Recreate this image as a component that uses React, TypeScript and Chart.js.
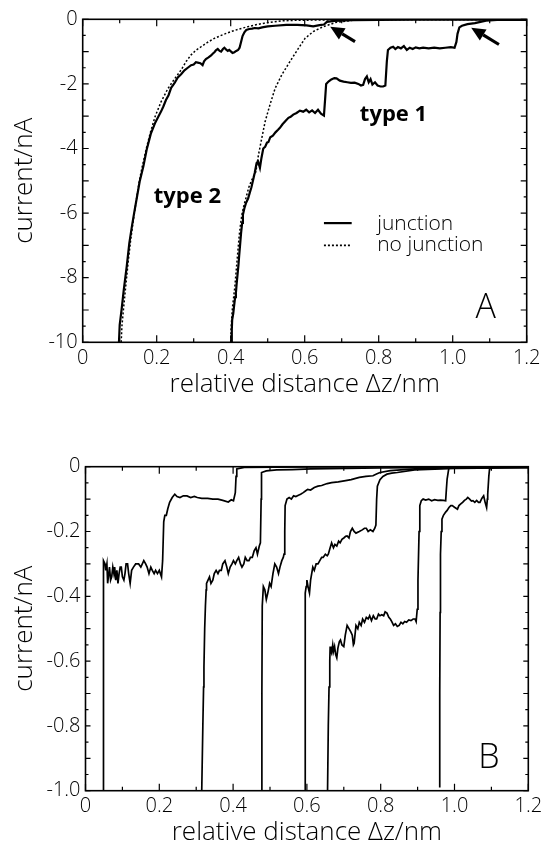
import React, { useEffect, useRef } from "react";
import { Chart, registerables } from "chart.js";

Chart.register(...registerables);

const FONT = '"Open Sans", "DejaVu Sans", sans-serif';
const CANVAS_W = 570;

type Pt = [number, number];

// ---------------- Panel A data (x: relative distance nm, y: current nA) ----------------
const type2Junction: Pt[] = [
  [0.098, -10], [0.1, -9.46], [0.105, -9.0], [0.111, -8.38], [0.119, -7.65], [0.126, -6.93], [0.133, -6.41],
  [0.139, -6.0], [0.147, -5.48], [0.154, -5.02], [0.164, -4.55], [0.173, -4.03], [0.184, -3.55], [0.196, -3.2],
  [0.205, -3.0], [0.212, -2.85], [0.218, -2.7], [0.225, -2.5], [0.232, -2.35], [0.239, -2.12], [0.248, -1.98],
  [0.257, -1.8], [0.266, -1.7], [0.275, -1.58], [0.284, -1.5], [0.293, -1.42], [0.3, -1.4], [0.306, -1.33],
  [0.311, -1.34], [0.318, -1.36], [0.324, -1.42], [0.328, -1.3], [0.333, -1.23], [0.34, -1.18], [0.347, -1.12],
  [0.352, -1.06], [0.356, -1.02], [0.36, -0.96], [0.365, -0.92], [0.37, -0.98], [0.374, -1.0], [0.379, -0.92],
  [0.383, -0.88], [0.388, -0.94], [0.392, -0.98], [0.396, -0.95], [0.401, -1.0], [0.405, -1.04], [0.41, -1.02],
  [0.415, -0.98], [0.42, -0.95], [0.424, -0.88], [0.428, -0.7], [0.432, -0.52], [0.437, -0.4], [0.442, -0.33],
  [0.45, -0.3], [0.458, -0.29], [0.465, -0.27], [0.475, -0.28], [0.485, -0.25], [0.5, -0.22], [0.52, -0.2],
  [0.55, -0.17], [0.58, -0.17], [0.605, -0.19], [0.623, -0.22], [0.64, -0.18], [0.652, -0.16], [0.66, -0.08],
  [0.68, -0.05], [0.73, -0.03], [0.8, -0.02], [0.9, -0.01], [1.0, -0.01], [1.2, -0.01],
];

const type2NoJunction: Pt[] = [
  [0.104, -10], [0.106, -9.5], [0.11, -9.0], [0.116, -8.3], [0.123, -7.5], [0.13, -6.8], [0.137, -6.2],
  [0.145, -5.6], [0.153, -5.0], [0.162, -4.5], [0.172, -4.0], [0.183, -3.5], [0.196, -3.0], [0.212, -2.55],
  [0.23, -2.15], [0.248, -1.85], [0.266, -1.57], [0.28, -1.3], [0.293, -1.1], [0.306, -0.96], [0.32, -0.85],
  [0.338, -0.71], [0.356, -0.59], [0.378, -0.48], [0.401, -0.38], [0.423, -0.3], [0.446, -0.23], [0.468, -0.17],
  [0.491, -0.12], [0.515, -0.08], [0.536, -0.05], [0.58, -0.03], [0.65, -0.02], [0.8, -0.01], [1.2, 0],
];

const type1Junction: Pt[] = [
  [0.402, -10], [0.403, -9.6], [0.404, -9.3], [0.407, -9.1], [0.409, -8.89], [0.412, -8.6], [0.414, -8.48],
  [0.416, -8.2], [0.418, -7.96], [0.421, -7.6], [0.423, -7.3], [0.426, -6.9], [0.428, -6.62], [0.431, -6.3],
  [0.433, -6.05], [0.437, -5.85], [0.441, -5.7], [0.447, -5.55], [0.452, -5.35], [0.456, -5.2], [0.461, -4.95],
  [0.465, -4.75], [0.47, -4.45], [0.474, -4.4], [0.479, -4.6], [0.483, -4.3], [0.488, -4.0], [0.493, -3.95],
  [0.498, -3.82], [0.502, -3.8], [0.507, -3.65], [0.514, -3.6], [0.521, -3.5], [0.528, -3.42], [0.533, -3.36],
  [0.54, -3.25], [0.548, -3.15], [0.556, -3.05], [0.562, -3.02], [0.569, -2.95], [0.578, -2.9], [0.587, -2.83],
  [0.596, -2.86], [0.604, -2.8], [0.612, -2.88], [0.62, -2.82], [0.628, -2.9], [0.636, -2.8], [0.644, -2.92],
  [0.652, -2.98], [0.655, -2.5], [0.658, -2.0], [0.665, -1.92], [0.672, -1.86], [0.68, -1.82], [0.686, -1.83],
  [0.695, -1.9], [0.705, -1.93], [0.715, -1.95], [0.725, -1.97], [0.735, -1.96], [0.745, -2.0], [0.752, -2.05],
  [0.758, -2.03], [0.763, -1.85], [0.768, -1.77], [0.773, -1.95], [0.778, -1.85], [0.783, -2.02], [0.79, -1.95],
  [0.797, -2.05], [0.805, -2.08], [0.812, -2.08], [0.818, -2.05], [0.822, -1.3], [0.825, -0.95], [0.832, -0.88],
  [0.839, -0.85], [0.845, -0.92], [0.852, -0.86], [0.86, -0.9], [0.868, -0.83], [0.876, -0.95], [0.884, -0.88],
  [0.892, -0.92], [0.9, -0.87], [0.91, -0.9], [0.92, -0.88], [0.935, -0.9], [0.95, -0.88], [0.965, -0.9],
  [0.98, -0.88], [0.995, -0.86], [1.005, -0.88], [1.01, -0.7], [1.013, -0.45], [1.018, -0.25], [1.025, -0.2],
  [1.04, -0.15], [1.06, -0.12], [1.075, -0.08], [1.09, -0.04], [1.12, -0.02], [1.2, -0.02],
];

const type1NoJunction: Pt[] = [
  [0.4, -10], [0.401, -9.6], [0.403, -9.2], [0.405, -8.9], [0.408, -8.6], [0.411, -8.3], [0.414, -7.9],
  [0.417, -7.5], [0.42, -7.1], [0.423, -6.7], [0.427, -6.3], [0.431, -6.0], [0.436, -5.75], [0.442, -5.5],
  [0.449, -5.2], [0.456, -5.0], [0.462, -4.85], [0.468, -4.72], [0.475, -4.2], [0.484, -3.68], [0.493, -3.17],
  [0.506, -2.65], [0.52, -2.14], [0.538, -1.72], [0.56, -1.31], [0.583, -0.9], [0.601, -0.59], [0.623, -0.38],
  [0.65, -0.23], [0.686, -0.09], [0.73, -0.03], [0.8, -0.01], [1.2, 0],
];

// ---------------- Panel B data ----------------
const curveB1: Pt[] = [
  [0.048, -1.0], [0.048, -0.7], [0.048, -0.47], [0.049, -0.35], [0.05, -0.29], [0.053, -0.3], [0.055, -0.32],
  [0.058, -0.3], [0.06, -0.36], [0.063, -0.33], [0.065, -0.31], [0.068, -0.35], [0.071, -0.34], [0.074, -0.31],
  [0.077, -0.33], [0.079, -0.31], [0.082, -0.35], [0.085, -0.32], [0.088, -0.36], [0.091, -0.33], [0.094, -0.31],
  [0.097, -0.31], [0.1, -0.34], [0.104, -0.35], [0.107, -0.33], [0.11, -0.3], [0.114, -0.3], [0.117, -0.33],
  [0.121, -0.36], [0.125, -0.32], [0.13, -0.31], [0.136, -0.3], [0.144, -0.3], [0.15, -0.31], [0.158, -0.29],
  [0.163, -0.3], [0.167, -0.31], [0.172, -0.33], [0.177, -0.31], [0.181, -0.32], [0.186, -0.33], [0.19, -0.32],
  [0.195, -0.33], [0.2, -0.32], [0.206, -0.34], [0.209, -0.29], [0.212, -0.17], [0.215, -0.15], [0.219, -0.15],
  [0.223, -0.13], [0.228, -0.11], [0.235, -0.095], [0.242, -0.085], [0.248, -0.092], [0.256, -0.095],
  [0.265, -0.09], [0.275, -0.09], [0.285, -0.095], [0.295, -0.092], [0.303, -0.095], [0.315, -0.098],
  [0.331, -0.098], [0.345, -0.1], [0.359, -0.1], [0.372, -0.104], [0.387, -0.109], [0.395, -0.102],
  [0.401, -0.105], [0.406, -0.08], [0.408, -0.03], [0.41, -0.007], [0.43, -0.002], [0.6, -0.001], [1.2, 0],
];

const curveB2: Pt[] = [
  [0.315, -1.0], [0.318, -0.8], [0.32, -0.68], [0.321, -0.62], [0.323, -0.5], [0.325, -0.43], [0.327, -0.38],
  [0.328, -0.36], [0.332, -0.35], [0.336, -0.34], [0.34, -0.36], [0.345, -0.35], [0.349, -0.33], [0.354, -0.32],
  [0.359, -0.33], [0.363, -0.32], [0.368, -0.32], [0.372, -0.3], [0.378, -0.29], [0.383, -0.31], [0.387, -0.33],
  [0.392, -0.31], [0.397, -0.3], [0.401, -0.29], [0.406, -0.3], [0.41, -0.29], [0.415, -0.28], [0.42, -0.3],
  [0.424, -0.31], [0.429, -0.3], [0.433, -0.28], [0.438, -0.29], [0.443, -0.29], [0.447, -0.28], [0.452, -0.28],
  [0.457, -0.26], [0.462, -0.25], [0.466, -0.27], [0.471, -0.245], [0.474, -0.235], [0.476, -0.1],
  [0.477, -0.018], [0.49, -0.013], [0.518, -0.01], [0.56, -0.009], [0.611, -0.007], [0.705, -0.005],
  [0.8, -0.004], [1.0, -0.002], [1.2, -0.002],
];

const curveB3: Pt[] = [
  [0.478, -1.0], [0.478, -0.7], [0.479, -0.43], [0.482, -0.37], [0.486, -0.38], [0.49, -0.41], [0.494, -0.39],
  [0.499, -0.36], [0.503, -0.37], [0.508, -0.33], [0.513, -0.3], [0.518, -0.31], [0.523, -0.33], [0.527, -0.31],
  [0.532, -0.29], [0.536, -0.28], [0.538, -0.27], [0.54, -0.2], [0.541, -0.12], [0.546, -0.1], [0.552, -0.095],
  [0.558, -0.1], [0.564, -0.09], [0.57, -0.092], [0.577, -0.088], [0.583, -0.085], [0.59, -0.08], [0.596, -0.075],
  [0.602, -0.07], [0.61, -0.072], [0.62, -0.064], [0.63, -0.06], [0.64, -0.058], [0.655, -0.052], [0.667, -0.049],
  [0.685, -0.047], [0.705, -0.043], [0.72, -0.04], [0.742, -0.033], [0.76, -0.03], [0.779, -0.028],
  [0.79, -0.022], [0.798, -0.018], [0.826, -0.012], [0.892, -0.007], [1.0, -0.004], [1.2, -0.002],
];

const curveB4: Pt[] = [
  [0.595, -1.0], [0.595, -0.7], [0.596, -0.39], [0.598, -0.37], [0.6, -0.35], [0.603, -0.37], [0.607, -0.39],
  [0.61, -0.35], [0.613, -0.33], [0.616, -0.31], [0.62, -0.32], [0.625, -0.3], [0.63, -0.3], [0.635, -0.29],
  [0.64, -0.28], [0.644, -0.28], [0.65, -0.27], [0.655, -0.275], [0.658, -0.27], [0.663, -0.25], [0.667, -0.235],
  [0.672, -0.25], [0.676, -0.24], [0.681, -0.245], [0.686, -0.23], [0.69, -0.235], [0.695, -0.224], [0.7, -0.22],
  [0.705, -0.215], [0.709, -0.214], [0.714, -0.22], [0.718, -0.2], [0.723, -0.19], [0.728, -0.2], [0.733, -0.205],
  [0.742, -0.2], [0.75, -0.195], [0.756, -0.19], [0.761, -0.19], [0.766, -0.2], [0.772, -0.195], [0.779, -0.2],
  [0.784, -0.19], [0.787, -0.18], [0.789, -0.1], [0.791, -0.06], [0.798, -0.04], [0.806, -0.03], [0.817, -0.023],
  [0.83, -0.02], [0.845, -0.018], [0.892, -0.01], [1.0, -0.005], [1.2, -0.003],
];

const curveB5: Pt[] = [
  [0.656, -1.0], [0.658, -0.8], [0.66, -0.68], [0.662, -0.6], [0.663, -0.555], [0.665, -0.57], [0.667, -0.576],
  [0.67, -0.55], [0.672, -0.57], [0.675, -0.555], [0.678, -0.58], [0.681, -0.59], [0.684, -0.56], [0.688, -0.54],
  [0.691, -0.535], [0.695, -0.55], [0.7, -0.555], [0.704, -0.52], [0.709, -0.49], [0.714, -0.5], [0.719, -0.51],
  [0.723, -0.52], [0.726, -0.55], [0.728, -0.545], [0.733, -0.49], [0.738, -0.5], [0.742, -0.48], [0.747, -0.49],
  [0.751, -0.47], [0.756, -0.48], [0.761, -0.465], [0.766, -0.47], [0.77, -0.46], [0.775, -0.475], [0.78, -0.46],
  [0.785, -0.47], [0.789, -0.47], [0.794, -0.455], [0.798, -0.46], [0.803, -0.457], [0.808, -0.46],
  [0.812, -0.448], [0.817, -0.452], [0.822, -0.465], [0.826, -0.47], [0.83, -0.478], [0.835, -0.49],
  [0.84, -0.485], [0.845, -0.493], [0.85, -0.49], [0.855, -0.48], [0.86, -0.485], [0.865, -0.478], [0.87, -0.48],
  [0.876, -0.473], [0.882, -0.475], [0.888, -0.47], [0.893, -0.47], [0.896, -0.478], [0.899, -0.44],
  [0.901, -0.35], [0.904, -0.2], [0.906, -0.12], [0.91, -0.105], [0.915, -0.1], [0.922, -0.103], [0.93, -0.1],
  [0.938, -0.105], [0.946, -0.102], [0.955, -0.104], [0.962, -0.103], [0.97, -0.104], [0.976, -0.105],
  [0.978, -0.07], [0.98, -0.038], [0.985, -0.002], [1.0, 0], [1.2, 0],
];

const curveB6: Pt[] = [
  [0.96, -0.99], [0.96, -0.7], [0.961, -0.45], [0.962, -0.27], [0.964, -0.2], [0.966, -0.162], [0.97, -0.15],
  [0.976, -0.14], [0.98, -0.135], [0.985, -0.126], [0.99, -0.12], [0.994, -0.12], [1.0, -0.125], [1.008, -0.131],
  [1.012, -0.12], [1.017, -0.115], [1.022, -0.11], [1.027, -0.104], [1.032, -0.1], [1.036, -0.095], [1.041, -0.1],
  [1.046, -0.106], [1.05, -0.105], [1.055, -0.11], [1.06, -0.104], [1.065, -0.11], [1.069, -0.11],
  [1.074, -0.098], [1.079, -0.09], [1.083, -0.11], [1.087, -0.126], [1.089, -0.1], [1.09, -0.085],
  [1.093, -0.03], [1.095, -0.007], [1.107, -0.002], [1.2, 0],
];

// ---------------- axis / label content ----------------
const X_TITLE = "relative distance \u0394z/nm";
const Y_TITLE = "current/nA";
const legendLabels = ["junction", "no junction"];
const typeLabels = ["type 2", "type 1"];

// annotation anchors (data coordinates)
const typeLabelPos: Pt[] = [[0.283, -5.48], [0.84, -2.95]];
const arrowsA: [Pt, Pt][] = [
  [[0.736, -0.69], [0.669, -0.23]],
  [[1.125, -0.78], [1.05, -0.26]],
];
const legendPos = { x0: 0.652, x1: 0.727, xText: 0.796, ySolid: -6.35, yDotted: -7.0 };
const panelLetterA: Pt = [1.089, -8.96];
const panelLetterB: Pt = [1.093, -0.9];

const toXY = (a: Pt[]) => a.map(([x, y]) => ({ x, y }));

type TickSpec = {
  xStep: number; xMajorEvery: number; xMajorLen: number; xMinorLen: number;
  yStep: number; yMajorEvery: number; yMajorLen: number; yMinorLen: number;
};

function makeFramePlugin(spec: TickSpec, overlay: (chart: any) => void) {
  return {
    id: "frameTicks",
    afterDraw(chart: any) {
      const { ctx, chartArea: a, scales } = chart;
      const xs = scales.x;
      const ys = scales.y;
      ctx.save();
      ctx.strokeStyle = "#000";
      ctx.lineWidth = 1.2;
      ctx.beginPath();
      const nx = Math.round((xs.max - xs.min) / spec.xStep);
      for (let i = 0; i <= nx; i++) {
        const p = xs.getPixelForValue(xs.min + i * spec.xStep);
        const len = i % spec.xMajorEvery === 0 ? spec.xMajorLen : spec.xMinorLen;
        ctx.moveTo(p, a.bottom);
        ctx.lineTo(p, a.bottom - len);
        ctx.moveTo(p, a.top);
        ctx.lineTo(p, a.top + len);
      }
      const ny = Math.round((ys.max - ys.min) / spec.yStep);
      for (let i = 0; i <= ny; i++) {
        const p = ys.getPixelForValue(ys.min + i * spec.yStep);
        const len = i % spec.yMajorEvery === 0 ? spec.yMajorLen : spec.yMinorLen;
        ctx.moveTo(a.left, p);
        ctx.lineTo(a.left + len, p);
        ctx.moveTo(a.right, p);
        ctx.lineTo(a.right - len, p);
      }
      ctx.stroke();
      ctx.lineWidth = 1.6;
      ctx.strokeRect(a.left, a.top, a.right - a.left, a.bottom - a.top);
      overlay(chart);
      ctx.restore();
    },
  };
}

function drawArrow(ctx: CanvasRenderingContext2D, x0: number, y0: number, x1: number, y1: number) {
  const ang = Math.atan2(y1 - y0, x1 - x0);
  const headLen = 14;
  const headHalf = 6.5;
  const bx = x1 - headLen * Math.cos(ang);
  const by = y1 - headLen * Math.sin(ang);
  ctx.save();
  ctx.strokeStyle = "#000";
  ctx.fillStyle = "#000";
  ctx.lineWidth = 3.2;
  ctx.beginPath();
  ctx.moveTo(x0, y0);
  ctx.lineTo(bx, by);
  ctx.stroke();
  ctx.beginPath();
  ctx.moveTo(x1, y1);
  ctx.lineTo(bx + headHalf * Math.sin(ang), by - headHalf * Math.cos(ang));
  ctx.lineTo(bx - headHalf * Math.sin(ang), by + headHalf * Math.cos(ang));
  ctx.closePath();
  ctx.fill();
  ctx.restore();
}

function overlayA(chart: any) {
  const { ctx, scales } = chart;
  const X = (v: number) => scales.x.getPixelForValue(v);
  const Y = (v: number) => scales.y.getPixelForValue(v);
  ctx.fillStyle = "#000";
  ctx.textBaseline = "middle";
  ctx.textAlign = "center";
  ctx.font = `bold 22px ${FONT}`;
  typeLabels.forEach((t, i) => ctx.fillText(t, X(typeLabelPos[i][0]), Y(typeLabelPos[i][1])));
  ctx.font = `300 34px ${FONT}`;
  ctx.fillText("A", X(panelLetterA[0]), Y(panelLetterA[1]));
  arrowsA.forEach(([from, to]) => drawArrow(ctx, X(from[0]), Y(from[1]), X(to[0]), Y(to[1])));
  // legend
  ctx.strokeStyle = "#000";
  ctx.lineWidth = 2.2;
  ctx.setLineDash([]);
  ctx.beginPath();
  ctx.moveTo(X(legendPos.x0), Y(legendPos.ySolid + 0.04));
  ctx.lineTo(X(legendPos.x1), Y(legendPos.ySolid + 0.04));
  ctx.stroke();
  ctx.lineWidth = 1.6;
  ctx.setLineDash([2, 2]);
  ctx.beginPath();
  ctx.moveTo(X(legendPos.x0), Y(legendPos.yDotted));
  ctx.lineTo(X(legendPos.x1), Y(legendPos.yDotted));
  ctx.stroke();
  ctx.setLineDash([]);
  ctx.textAlign = "left";
  ctx.font = `300 21px ${FONT}`;
  ctx.fillText(legendLabels[0], X(legendPos.xText), Y(legendPos.ySolid));
  ctx.fillText(legendLabels[1], X(legendPos.xText), Y(legendPos.yDotted));
}

function overlayB(chart: any) {
  const { ctx, scales } = chart;
  ctx.fillStyle = "#000";
  ctx.textBaseline = "middle";
  ctx.textAlign = "center";
  ctx.font = `300 34px ${FONT}`;
  ctx.fillText("B", scales.x.getPixelForValue(panelLetterB[0]), scales.y.getPixelForValue(panelLetterB[1]));
}

type PanelProps = {
  top: number;
  height: number;
  plotTop: number;
  plotLeft: number;
  plotRight: number;
  plotBottom: number;
  yMin: number;
  yLabelStep: number;
  yFmt: (v: number) => string;
  spec: TickSpec;
  datasets: any[];
  overlay: (chart: any) => void;
};

function Panel(p: PanelProps) {
  const ref = useRef<HTMLCanvasElement | null>(null);
  useEffect(() => {
    if (!ref.current) return;
    const chart = new Chart(ref.current, {
      type: "scatter",
      data: { datasets: p.datasets },
      options: {
        animation: false,
        responsive: false,
        events: [],
        layout: { padding: { left: 0, top: p.plotTop, right: CANVAS_W - p.plotRight, bottom: 0 } },
        plugins: { legend: { display: false }, tooltip: { enabled: false } },
        elements: { point: { radius: 0 } },
        scales: {
          x: {
            type: "linear",
            min: 0,
            max: 1.2,
            grid: { display: false, drawTicks: false },
            border: { display: false },
            ticks: {
              stepSize: 0.2,
              color: "#000",
              font: { family: FONT, size: 20, weight: "300" },
              padding: 4,
              maxRotation: 0,
              autoSkip: false,
              callback: (v: any) => (Math.abs(Number(v)) < 1e-9 ? "0" : Number(v).toFixed(1)),
            },
            title: { display: true, text: X_TITLE, color: "#000", font: { family: FONT, size: 26, weight: "300" }, padding: 0 },
            afterFit: (s: any) => {
              s.height = p.height - p.plotBottom;
            },
          },
          y: {
            type: "linear",
            min: p.yMin,
            max: 0,
            grid: { display: false, drawTicks: false },
            border: { display: false },
            ticks: {
              stepSize: p.yLabelStep,
              color: "#000",
              font: { family: FONT, size: 20, weight: "300" },
              padding: 5,
              autoSkip: false,
              callback: (v: any) => p.yFmt(Number(v)),
            },
            title: { display: true, text: Y_TITLE, color: "#000", font: { family: FONT, size: 26, weight: "300" }, padding: { top: 9, bottom: 0 } },
            afterFit: (s: any) => {
              s.width = p.plotLeft;
            },
          },
        },
      },
      plugins: [makeFramePlugin(p.spec, p.overlay)],
    } as any);
    return () => chart.destroy();
  }, []);
  return (
    <canvas
      ref={ref}
      width={CANVAS_W}
      height={p.height}
      style={{ position: "absolute", left: 0, top: p.top, width: CANVAS_W, height: p.height, display: "block" }}
    />
  );
}

const solid = (d: Pt[], w: number) => ({
  data: toXY(d),
  showLine: true,
  borderColor: "#000",
  borderWidth: w,
  pointRadius: 0,
  tension: 0,
});
const dotted = (d: Pt[]) => ({
  data: toXY(d),
  showLine: true,
  borderColor: "#000",
  borderWidth: 1.5,
  borderDash: [2, 2],
  pointRadius: 0,
  tension: 0,
});

export default function App() {
  const datasetsA = [
    dotted(type2NoJunction),
    dotted(type1NoJunction),
    solid(type2Junction, 2.2),
    solid(type1Junction, 2.2),
  ];
  const datasetsB = [curveB1, curveB2, curveB3, curveB4, curveB5, curveB6].map((c) => solid(c, 1.7));
  return (
    <div style={{ position: "absolute", left: 0, top: 0, width: 541, height: 848, overflow: "hidden", background: "#fff" }}>
      <Panel
        top={0}
        height={400}
        plotTop={19.3}
        plotLeft={82.7}
        plotRight={526.7}
        plotBottom={342.3}
        yMin={-10}
        yLabelStep={2}
        yFmt={(v) => (Math.abs(v) < 1e-9 ? "0" : String(Math.round(v)))}
        spec={{ xStep: 0.1, xMajorEvery: 2, xMajorLen: 7, xMinorLen: 4, yStep: 0.5, yMajorEvery: 2, yMajorLen: 6, yMinorLen: 3 }}
        datasets={datasetsA}
        overlay={overlayA}
      />
      <Panel
        top={420}
        height={428}
        plotTop={46.7}
        plotLeft={85.5}
        plotRight={528.3}
        plotBottom={370.7}
        yMin={-1}
        yLabelStep={0.2}
        yFmt={(v) => (Math.abs(v) < 1e-9 ? "0" : v.toFixed(1))}
        spec={{ xStep: 0.1, xMajorEvery: 2, xMajorLen: 7, xMinorLen: 4, yStep: 0.05, yMajorEvery: 2, yMajorLen: 5, yMinorLen: 3 }}
        datasets={datasetsB}
        overlay={overlayB}
      />
    </div>
  );
}
